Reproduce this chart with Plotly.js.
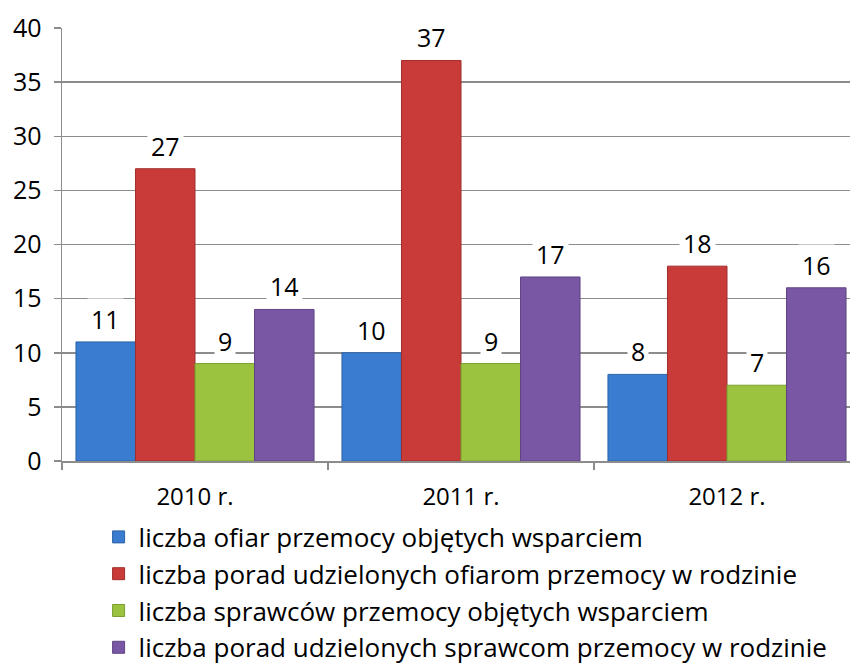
<!DOCTYPE html>
<html>
<head>
<meta charset="utf-8">
<script src="https://cdn.plot.ly/plotly-3.0.1.min.js"></script>
<style>html,body{margin:0;padding:0;background:#fff;}#chart{width:850px;height:666px;}</style>
</head>
<body>
<div id="chart"></div>
<script>
const categories = ["2010 r.", "2011 r.", "2012 r."];
const seriesNames = [
  "liczba ofiar przemocy objętych wsparciem",
  "liczba porad udzielonych ofiarom przemocy w rodzinie",
  "liczba sprawców przemocy objętych wsparciem",
  "liczba porad udzielonych sprawcom przemocy w rodzinie"
];
const victims = [11, 10, 8];
const victimAdvice = [27, 37, 18];
const perpetrators = [9, 9, 7];
const perpetratorAdvice = [14, 17, 16];
const yTicks = [0, 5, 10, 15, 20, 25, 30, 35, 40];

const seriesValues = [victims, victimAdvice, perpetrators, perpetratorAdvice];
const colors = ["#3a7ccf", "#c83b39", "#9bc340", "#7a57a5"];
const edges = ["#2c63a8", "#a02e2c", "#7c9e31", "#5f4484"];
const FONT = "'Open Sans', 'Noto Sans', sans-serif";
const bargap = 0.105;

const traces = seriesValues.map((vals, i) => ({
  type: "bar",
  name: seriesNames[i],
  x: categories,
  y: vals,
  legendgroup: "g" + i,
  marker: {color: colors[i], line: {color: edges[i], width: 1}},
  hoverinfo: "skip"
}));

const barW = (1 - bargap) / seriesValues.length;
const annotations = [];
seriesValues.forEach((vals, i) => {
  vals.forEach((v, j) => {
    annotations.push({
      x: j + (i - (seriesValues.length - 1) / 2) * barW,
      xref: "x", y: v, yref: "y",
      text: String(v), showarrow: false,
      yshift: 23, bgcolor: "#ffffff",
      font: {family: FONT, size: 25, color: "#000"},
      borderpad: 3
    });
  });
});

const layout = {
  width: 850, height: 666,
  margin: {l: 62, r: 0, t: 28, b: 205, autoexpand: false},
  paper_bgcolor: "#fff", plot_bgcolor: "#fff",
  font: {family: FONT, size: 25, color: "#000"},
  barmode: "group", bargap: bargap, bargroupgap: 0,
  showlegend: true,
  legend: {
    orientation: "v", xref: "container", yref: "container",
    x: 0.116, y: 0.229, xanchor: "left", yanchor: "top",
    font: {family: FONT, size: 26, color: "#000"},
    tracegroupgap: 12, itemwidth: 30, traceorder: "normal",
    bgcolor: "rgba(0,0,0,0)"
  },
  xaxis: {
    type: "category", range: [-0.5, -0.5 + 788 / 266],
    showgrid: false, showline: true, linecolor: "#8c8c8c", linewidth: 1.5,
    ticks: "outside", tickson: "boundaries", ticklen: 7, tickcolor: "#8c8c8c", tickwidth: 1.5,
    tickangle: 0, automargin: false, ticklabelstandoff: 14,
    tickfont: {family: FONT, size: 24, color: "#000"}, zeroline: false
  },
  yaxis: {
    range: [0, 40], tickvals: yTicks, automargin: false,
    showgrid: true, gridcolor: "#8c8c8c", gridwidth: 1.5,
    showline: true, linecolor: "#8c8c8c", linewidth: 1.5,
    ticks: "outside", ticklen: 7, tickcolor: "#8c8c8c", tickwidth: 1.5,
    ticklabelstandoff: 7,
    tickfont: {family: FONT, size: 25, color: "#000"}, zeroline: false
  },
  annotations: annotations
};

Plotly.newPlot("chart", traces, layout, {displayModeBar: false, staticPlot: true});
</script>
</body>
</html>
